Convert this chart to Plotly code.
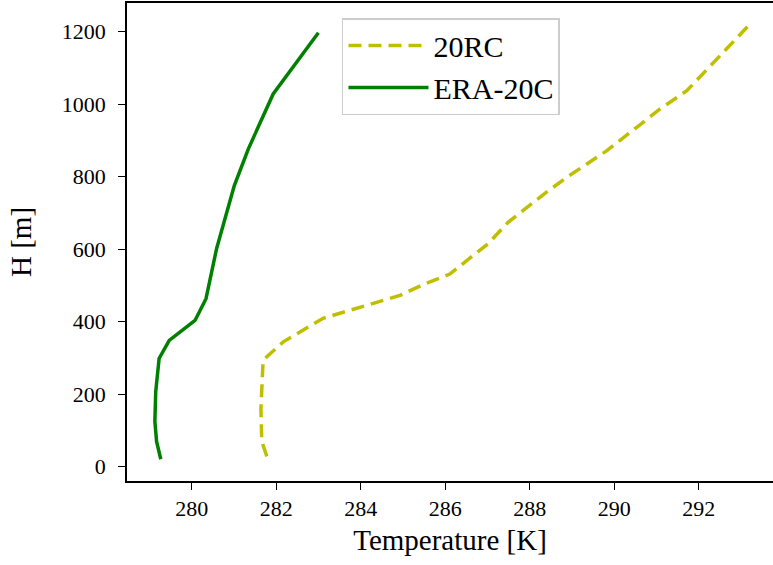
import plotly.graph_objects as go

# ERA-20C profile
T_era = [279.27, 279.17, 279.13, 279.15, 279.23, 279.47, 280.08, 280.34, 280.59, 280.79, 281.01, 281.34, 281.93, 283.00]
H_era = [20, 69, 124, 207, 298, 348, 403, 463, 601, 684, 775, 876, 1028, 1197]

# 20RC profile
T_20rc = [281.78, 281.66, 281.64, 281.69, 281.78, 282.17, 283.11, 283.91, 284.93, 285.44, 286.11, 287.02, 287.49, 288.40, 288.88, 289.82, 291.08, 291.72, 292.27, 293.21]
H_20rc = [28, 69, 160, 289, 303, 344, 409, 436, 472, 500, 531, 615, 674, 757, 798, 871, 986, 1037, 1105, 1220]

x_ticks = [280, 282, 284, 286, 288, 290, 292]
y_ticks = [0, 200, 400, 600, 800, 1000, 1200]

FONT = "Liberation Serif"

fig = go.Figure()
fig.add_trace(go.Scatter(x=T_20rc, y=H_20rc, mode="lines", name="20RC",
                         line=dict(color="#bfbf00", width=3.5, dash="13px,7px")))
fig.add_trace(go.Scatter(x=T_era, y=H_era, mode="lines", name="ERA-20C",
                         line=dict(color="#008000", width=3.5)))

fig.update_layout(
    width=773, height=565,
    margin=dict(l=127, r=0, t=3, b=84),
    paper_bgcolor="white", plot_bgcolor="white",
    font=dict(family=FONT, color="black", size=21),
    showlegend=True,
    legend=dict(x=0.3328, y=0.9686, xanchor="left", yanchor="top",
                bgcolor="rgba(255,255,255,0.8)", bordercolor="#cccccc", borderwidth=1.5,
                font=dict(family=FONT, size=30, color="black"), itemwidth=80),
    xaxis=dict(range=[278.47, 293.76], tickvals=x_ticks, ticktext=[str(v) for v in x_ticks],
               automargin=False,
               showgrid=False, zeroline=False, showline=True, linecolor="black", linewidth=1.5,
               mirror=True, ticks="outside", ticklen=7, tickwidth=1.3, tickcolor="black",
               ticklabelstandoff=0,
               tickfont=dict(family=FONT, size=22, color="black"),
               title=dict(text="Temperature [K]", font=dict(family=FONT, size=29, color="black"), standoff=10)),
    yaxis=dict(range=[-40, 1279], tickvals=y_ticks, ticktext=[str(v) for v in y_ticks],
               automargin=False,
               showgrid=False, zeroline=False, showline=True, linecolor="black", linewidth=1.5,
               mirror=False, ticks="outside", ticklen=7, tickwidth=1.3, tickcolor="black",
               ticklabelstandoff=8,
               tickfont=dict(family=FONT, size=22, color="black"),
               title=dict(text="H [m]", font=dict(family=FONT, size=29, color="black"), standoff=22)),
)

fig.write_html("out.html", config={"displayModeBar": False},
               post_script="document.body.style.margin='0px';")
